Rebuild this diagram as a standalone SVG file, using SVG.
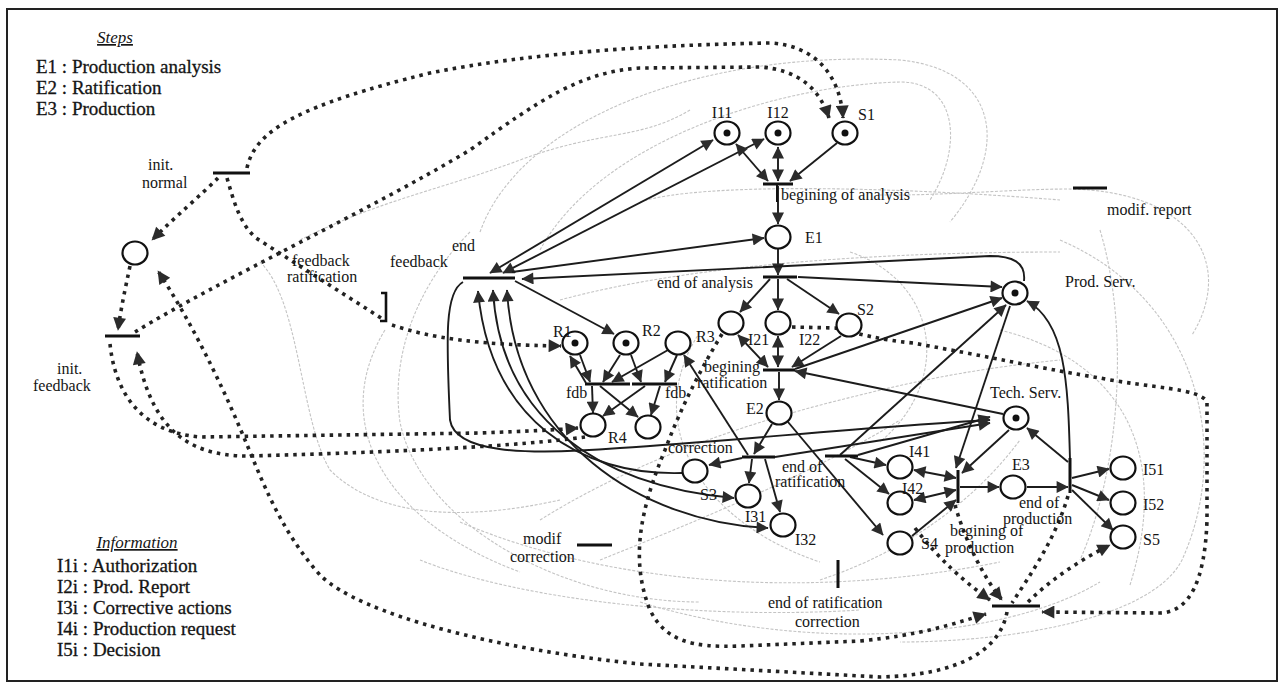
<svg xmlns="http://www.w3.org/2000/svg" width="1284" height="683" viewBox="0 0 1284 683">
  <defs>
    <marker id="ah" viewBox="0 0 10 10" refX="9.5" refY="5" markerWidth="16" markerHeight="12" markerUnits="userSpaceOnUse" orient="auto-start-reverse">
      <path d="M0,0 L10,5 L0,10 Z" fill="#2b2b2b"/>
    </marker>
    <marker id="ahd" viewBox="0 0 10 10" refX="9.5" refY="5" markerWidth="17" markerHeight="13" markerUnits="userSpaceOnUse" orient="auto-start-reverse">
      <path d="M0,0 L10,5 L0,10 Z" fill="#2b2b2b"/>
    </marker>
  </defs>
  <style>
    .pl{fill:#fff;stroke:#111;stroke-width:2.2}
    .tk{fill:#111}
    .tr{stroke:#111;stroke-width:3;stroke-linecap:butt}
    .arc{fill:none;stroke:#1c1c1c;stroke-width:1.9}
    .dot{fill:none;stroke:#222;stroke-width:3.6;stroke-dasharray:3.5 5}
    .gr{fill:none;stroke:#c4c4c4;stroke-width:1.1;stroke-dasharray:3 1.6}
    text{font-family:"Liberation Serif","Times New Roman",serif;font-size:16px;fill:#151515}
    .lg{font-size:19px;stroke:#151515;stroke-width:0.3}
    .hd{font-size:17px;font-style:italic;text-decoration:underline}
  </style>

  <rect x="0" y="0" width="1284" height="683" fill="#fff"/>
  <rect x="7" y="9" width="1270" height="672" fill="none" stroke="#222" stroke-width="2"/>

  <!-- legend -->
  <g id="legend-steps">
    <text class="hd" x="115" y="43" text-anchor="middle">Steps</text>
    <text class="lg" x="36" y="73">E1 : Production analysis</text>
    <text class="lg" x="36" y="94">E2 : Ratification</text>
    <text class="lg" x="36" y="115">E3 : Production</text>
  </g>
  <g id="legend-info">
    <text class="hd" x="137" y="548" text-anchor="middle">Information</text>
    <text class="lg" x="57" y="572">I1i : Authorization</text>
    <text class="lg" x="57" y="593">I2i : Prod. Report</text>
    <text class="lg" x="57" y="614">I3i : Corrective actions</text>
    <text class="lg" x="57" y="635">I4i : Production request</text>
    <text class="lg" x="57" y="656">I5i : Decision</text>
  </g>

  <!-- connectors -->
  <g id="connectors">
    <!-- faint secondary arcs -->
    <g id="faint">
      <path class="gr" d="M480 232 C520 120 700 50 900 60 C1000 70 1010 150 950 222"/>
      <path class="gr" d="M540 250 C600 140 780 85 900 82 C960 82 962 150 930 200"/>
      <path class="gr" d="M880 195 C950 196 1050 186 1090 190 C1200 200 1232 270 1192 335"/>
      <path class="gr" d="M1060 240 C1200 300 1232 450 1182 560 C1150 622 1000 642 900 642"/>
      <path class="gr" d="M1000 330 C1120 360 1172 450 1130 585"/>
      <path class="gr" d="M470 232 C420 282 390 352 400 422 C420 522 560 602 700 602"/>
      <path class="gr" d="M385 330 C330 420 380 520 520 572"/>
      <path class="gr" d="M460 522 C600 582 800 602 1000 562"/>
      <path class="gr" d="M640 602 C800 652 1000 642 1100 582"/>
      <path class="gr" d="M560 300 C700 262 900 252 1060 252"/>
      <path class="gr" d="M640 202 C700 182 900 187 1060 200"/>
      <path class="gr" d="M700 332 C640 422 700 522 820 562"/>
      <path class="gr" d="M850 252 C940 282 952 382 880 442"/>
      <path class="gr" d="M260 262 C300 300 300 420 330 470 C380 520 470 520 560 500"/>
      <path class="gr" d="M300 240 C380 200 440 190 520 160 C600 130 640 140 690 110"/>
      <path class="gr" d="M1100 230 C1130 330 1120 470 1080 560"/>
      <path class="gr" d="M540 520 C620 470 720 430 840 400 C900 385 960 370 1060 360"/>
      <path class="gr" d="M600 560 C700 520 820 470 900 420"/>
      <path class="gr" d="M820 580 C880 560 960 520 1020 440"/>
      <path class="gr" d="M420 560 C520 600 700 620 860 610"/>
    </g>

    <!-- dotted arcs -->
    <g id="dotted">
      <path class="dot" marker-end="url(#ahd)" d="M247 168 C255 130 300 105 430 73 C530 53 650 45 770 43 C812 45 840 72 843 118"/>
      <path class="dot" marker-end="url(#ahd)" d="M135 332 C220 280 370 210 470 150 C540 100 580 72 640 68 L760 67 C800 70 820 90 829 118"/>
      <path class="dot" marker-end="url(#ahd)" d="M218 178 C200 196 176 216 152 240"/>
      <path class="dot" marker-end="url(#ahd)" d="M130 266 C125 290 121 308 118 330"/>
      <path class="dot" d="M227 178 C234 202 240 224 256 238 L381 318"/>
      <path class="dot" marker-end="url(#ahd)" d="M392 325 C430 338 480 345 561 346"/>
      <path class="dot" marker-end="url(#ahd)" d="M1007 612 C1000 650 960 675 880 677 L640 664 C500 650 360 615 320 575 C280 530 262 480 245 440 C220 380 190 320 158 271"/>
      <path class="dot" marker-end="url(#ahd)" d="M110 344 C115 392 140 432 200 437 L480 433 C530 431 555 430 578 428"/>
      <path class="dot" marker-end="url(#ahd)" d="M585 437 C520 446 400 452 250 456 C180 457 150 420 137 352"/>
      <path class="dot" marker-end="url(#ahd)" d="M722 334 C700 370 680 410 665 450 C640 510 630 560 650 610 C665 640 690 648 740 646 L860 641 C920 635 950 625 986 614"/>
      <path class="dot" marker-end="url(#ahd)" d="M792 327 L835 328 C860 334 880 340 913 343 C980 355 1050 370 1100 378 C1150 388 1200 388 1207 402 L1207 520 C1205 580 1190 612 1160 613 L1042 612"/>
      <path class="dot" marker-end="url(#ahd)" d="M915 528 C940 560 962 580 990 600"/>
      <path class="dot" marker-end="url(#ahd)" d="M955 505 C965 540 982 575 1002 600"/>
      <path class="dot" d="M1068 496 C1055 540 1030 575 1012 603"/>
      <path class="dot" marker-end="url(#ahd)" d="M1028 602 C1050 580 1080 560 1110 545"/>
    </g>

    <!-- solid arcs -->
    <g id="solid">
      <path class="arc" marker-start="url(#ah)" marker-end="url(#ah)" d="M490 273 L713 140"/>
      <path class="arc" marker-start="url(#ah)" marker-end="url(#ah)" d="M503 273 L764 139"/>
      <path class="arc" marker-start="url(#ah)" marker-end="url(#ah)" d="M736 144 L768 181"/>
      <path class="arc" marker-start="url(#ah)" marker-end="url(#ah)" d="M778 147 L778 181"/>
      <path class="arc" marker-end="url(#ah)" d="M837 143 L790 181"/>
      <path class="arc" marker-end="url(#ah)" d="M778 186 L778 224"/>
      <path class="arc" marker-end="url(#ah)" d="M512 272 L764 238"/>
      <path class="arc" marker-end="url(#ah)" d="M778 249 L778 275"/>
      <path class="arc" marker-end="url(#ah)" d="M770 279 L740 312"/>
      <path class="arc" marker-end="url(#ah)" d="M778 279 L778 310"/>
      <path class="arc" marker-end="url(#ah)" d="M787 279 L839 314"/>
      <path class="arc" marker-start="url(#ah)" marker-end="url(#ah)" d="M738 335 L768 367"/>
      <path class="arc" marker-start="url(#ah)" marker-end="url(#ah)" d="M778 336 L778 367"/>
      <path class="arc" marker-end="url(#ah)" d="M841 336 L792 367"/>
      <path class="arc" marker-end="url(#ah)" d="M779 372 L779 400"/>
      <path class="arc" marker-end="url(#ah)" d="M772 424 L754 454"/>
      <path class="arc" marker-end="url(#ah)" d="M788 422 L883 535"/>
      <path class="arc" marker-end="url(#ah)" d="M752 459 L749 483"/>
      <path class="arc" marker-end="url(#ah)" d="M765 459 L780 512"/>
      <path class="arc" marker-end="url(#ah)" d="M748 455 L684 355"/>
      <path class="arc" marker-end="url(#ah)" d="M1003 414 L795 371"/>
      <path class="arc" marker-end="url(#ah)" d="M742 458 L709 465"/>
      <path class="arc" marker-end="url(#ah)" d="M858 455 L990 417"/>
      <path class="arc" marker-end="url(#ah)" d="M775 457 L990 423"/>
      <path class="arc" marker-end="url(#ah)" d="M798 277 L1002 287"/>
      <path class="arc" marker-end="url(#ah)" d="M1024 281 C1026 262 1012 256 990 256 L522 279"/>
      <path class="arc" marker-end="url(#ah)" d="M795 369 L1002 298"/>
      <path class="arc" marker-end="url(#ah)" d="M840 455 L1006 305"/>
      <path class="arc" marker-end="url(#ah)" d="M1010 306 L956 468"/>
      <path class="arc" marker-end="url(#ah)" d="M1009 430 L962 473"/>
      <path class="arc" marker-end="url(#ah)" d="M1068 462 L1027 428"/>
      <path class="arc" marker-end="url(#ah)" d="M1070 460 C1068 380 1065 322 1027 301"/>
      <path class="arc" marker-end="url(#ah)" d="M960 487 L999 487"/>
      <path class="arc" marker-end="url(#ah)" d="M1027 487 L1068 487"/>
      <path class="arc" marker-end="url(#ah)" d="M1072 478 L1109 469"/>
      <path class="arc" marker-end="url(#ah)" d="M1072 485 L1109 500"/>
      <path class="arc" marker-end="url(#ah)" d="M1072 490 L1113 530"/>
      <path class="arc" marker-start="url(#ah)" marker-end="url(#ah)" d="M914 470 L956 478"/>
      <path class="arc" marker-start="url(#ah)" marker-end="url(#ah)" d="M914 500 L956 490"/>
      <path class="arc" marker-end="url(#ah)" d="M912 536 L956 500"/>
      <path class="arc" marker-end="url(#ah)" d="M850 457 L886 465"/>
      <path class="arc" marker-end="url(#ah)" d="M845 459 L889 494"/>
      <path class="arc" marker-end="url(#ah)" d="M682 473 C580 476 490 420 478 291"/>
      <path class="arc" marker-start="url(#ah)" marker-end="url(#ah)" d="M493 290 C500 420 600 486 734 498"/>
      <path class="arc" marker-start="url(#ah)" marker-end="url(#ah)" d="M507 290 C515 440 640 522 768 528"/>
      <path class="arc" marker-end="url(#ah)" d="M463 282 C445 292 446 335 450 420 C455 452 520 456 620 448 C740 440 880 426 990 420"/>
      <path class="arc" marker-end="url(#ah)" d="M515 281 L614 334"/>
      <path class="arc" marker-end="url(#ah)" d="M580 355 L590 382"/>
      <path class="arc" marker-end="url(#ah)" d="M586 383 L570 356"/>
      <path class="arc" marker-end="url(#ah)" d="M620 355 L603 382"/>
      <path class="arc" marker-end="url(#ah)" d="M631 355 L641 382"/>
      <path class="arc" marker-end="url(#ah)" d="M668 350 L612 382"/>
      <path class="arc" marker-end="url(#ah)" d="M677 355 L665 382"/>
      <path class="arc" marker-end="url(#ah)" d="M592 386 L593 413"/>
      <path class="arc" marker-end="url(#ah)" d="M600 386 L638 417"/>
      <path class="arc" marker-end="url(#ah)" d="M645 386 L603 416"/>
      <path class="arc" marker-end="url(#ah)" d="M660 386 L651 415"/>
    </g>
  </g>

  <!-- transitions -->
  <g id="t-init-normal"><line class="tr" x1="213" y1="173" x2="250" y2="173"/><text x="148" y="170">init.</text><text x="142" y="188">normal</text></g>
  <g id="t-init-feedback"><line class="tr" x1="105" y1="336" x2="140" y2="336"/><text x="57" y="374">init.</text><text x="33" y="391">feedback</text></g>
  <g id="t-feedback-ratification"><path d="M381 293 L386 293 L386 321 L380 321" fill="none" stroke="#111" stroke-width="2.6"/><text x="292" y="266">feedback</text><text x="287" y="282">ratification</text></g>
  <g id="t-end-feedback"><line class="tr" x1="463" y1="278" x2="515" y2="278"/><text x="452" y="251">end</text><text x="390" y="267">feedback</text></g>
  <g id="t-begin-analysis"><line class="tr" x1="763" y1="184" x2="793" y2="184"/><line x1="777" y1="184" x2="777" y2="202" stroke="#111" stroke-width="2"/><text x="781" y="200">begining of analysis</text></g>
  <g id="t-end-analysis"><line class="tr" x1="763" y1="277" x2="797" y2="277"/><text x="657" y="288">end of analysis</text></g>
  <g id="t-begin-ratification"><line class="tr" x1="763" y1="370" x2="795" y2="370"/><text x="704" y="372">begining</text><text x="697" y="388">ratification</text></g>
  <g id="t-fdb-1"><line class="tr" x1="585" y1="384" x2="630" y2="384"/><text x="566" y="398">fdb</text></g>
  <g id="t-fdb-2"><line class="tr" x1="632" y1="384" x2="677" y2="384"/><text x="665" y="398">fdb</text></g>
  <g id="t-correction"><line class="tr" x1="742" y1="457" x2="775" y2="457"/><text x="668" y="453">correction</text></g>
  <g id="t-end-ratification"><line class="tr" x1="825" y1="456" x2="858" y2="456"/><text x="782" y="472">end of</text><text x="775" y="487">ratification</text></g>
  <g id="t-begin-production"><line class="tr" x1="958" y1="470" x2="958" y2="503"/><text x="950" y="536">begining of</text><text x="945" y="553">production</text></g>
  <g id="t-end-production"><line class="tr" x1="1070" y1="458" x2="1070" y2="493"/><text x="1019" y="508">end of</text><text x="1003" y="524">production</text></g>
  <g id="t-modif-report"><line class="tr" x1="1073" y1="188" x2="1107" y2="188"/><text x="1107" y="215">modif. report</text></g>
  <g id="t-modif-correction"><line class="tr" x1="577" y1="545" x2="612" y2="545"/><text x="523" y="544">modif</text><text x="510" y="562">correction</text></g>
  <g id="t-end-ratification-correction"><line class="tr" x1="838" y1="560" x2="838" y2="588"/><text x="768" y="608">end of ratification</text><text x="795" y="627">correction</text></g>
  <g id="t-hub"><line class="tr" x1="992" y1="606" x2="1040" y2="606"/></g>

  <!-- places -->
  <g id="p-init"><ellipse class="pl" cx="135" cy="253" rx="12.5" ry="11.5"/></g>
  <g id="p-I11"><ellipse class="pl" cx="727" cy="133" rx="12.5" ry="11.5"/><circle class="tk" cx="727" cy="133" r="3.5"/><text x="722" y="118" text-anchor="middle">I11</text></g>
  <g id="p-I12"><ellipse class="pl" cx="778" cy="133" rx="12.5" ry="11.5"/><circle class="tk" cx="778" cy="133" r="3.5"/><text x="778" y="118" text-anchor="middle">I12</text></g>
  <g id="p-S1"><ellipse class="pl" cx="845" cy="133" rx="12.5" ry="11.5"/><circle class="tk" cx="845" cy="133" r="3.5"/><text x="858" y="120">S1</text></g>
  <g id="p-E1"><ellipse class="pl" cx="778" cy="237" rx="12.5" ry="11.5"/><text x="805" y="243">E1</text></g>
  <g id="p-I21"><ellipse class="pl" cx="731" cy="323" rx="12.5" ry="11.5"/><text x="748" y="345">I21</text></g>
  <g id="p-I22"><ellipse class="pl" cx="778" cy="323" rx="12.5" ry="11.5"/><text x="799" y="345">I22</text></g>
  <g id="p-S2"><ellipse class="pl" cx="849" cy="325" rx="12.5" ry="11.5"/><text x="857" y="315">S2</text></g>
  <g id="p-R1"><ellipse class="pl" cx="575" cy="343" rx="12.5" ry="11.5"/><circle class="tk" cx="575" cy="343" r="3.5"/><text x="553" y="337">R1</text></g>
  <g id="p-R2"><ellipse class="pl" cx="626" cy="343" rx="12.5" ry="11.5"/><circle class="tk" cx="626" cy="343" r="3.5"/><text x="642" y="336">R2</text></g>
  <g id="p-R3"><ellipse class="pl" cx="678" cy="343" rx="12.5" ry="11.5"/><text x="696" y="342">R3</text></g>
  <g id="p-R4"><ellipse class="pl" cx="593" cy="425" rx="12.5" ry="11.5"/><ellipse class="pl" cx="648" cy="427" rx="12.5" ry="11.5"/><text x="608" y="443">R4</text></g>
  <g id="p-E2"><ellipse class="pl" cx="779" cy="413" rx="12.5" ry="11.5"/><text x="746" y="414">E2</text></g>
  <g id="p-S3"><ellipse class="pl" cx="695" cy="471" rx="12.5" ry="11.5"/><text x="700" y="500">S3</text></g>
  <g id="p-I31"><ellipse class="pl" cx="748" cy="496" rx="12.5" ry="11.5"/><text x="745" y="522">I31</text></g>
  <g id="p-I32"><ellipse class="pl" cx="783" cy="525" rx="12.5" ry="11.5"/><text x="795" y="545">I32</text></g>
  <g id="p-prod"><ellipse class="pl" cx="1015" cy="293" rx="12.5" ry="11.5"/><circle class="tk" cx="1015" cy="293" r="3.5"/><text x="1065" y="287">Prod. Serv.</text></g>
  <g id="p-tech"><ellipse class="pl" cx="1016" cy="418" rx="12.5" ry="11.5"/><circle class="tk" cx="1016" cy="418" r="3.5"/><text x="990" y="398">Tech. Serv.</text></g>
  <g id="p-I41"><ellipse class="pl" cx="900" cy="467" rx="12.5" ry="11.5"/><text x="909" y="457">I41</text></g>
  <g id="p-I42"><ellipse class="pl" cx="900" cy="503" rx="12.5" ry="11.5"/><text x="902" y="494">I42</text></g>
  <g id="p-S4"><ellipse class="pl" cx="900" cy="543" rx="12.5" ry="11.5"/><text x="921" y="549">S4</text></g>
  <g id="p-E3"><ellipse class="pl" cx="1013" cy="487" rx="12.5" ry="11.5"/><text x="1012" y="470">E3</text></g>
  <g id="p-I51"><ellipse class="pl" cx="1123" cy="468" rx="12.5" ry="11.5"/><text x="1143" y="475">I51</text></g>
  <g id="p-I52"><ellipse class="pl" cx="1123" cy="503" rx="12.5" ry="11.5"/><text x="1143" y="510">I52</text></g>
  <g id="p-S5"><ellipse class="pl" cx="1123" cy="537" rx="12.5" ry="11.5"/><text x="1143" y="545">S5</text></g>
</svg>
